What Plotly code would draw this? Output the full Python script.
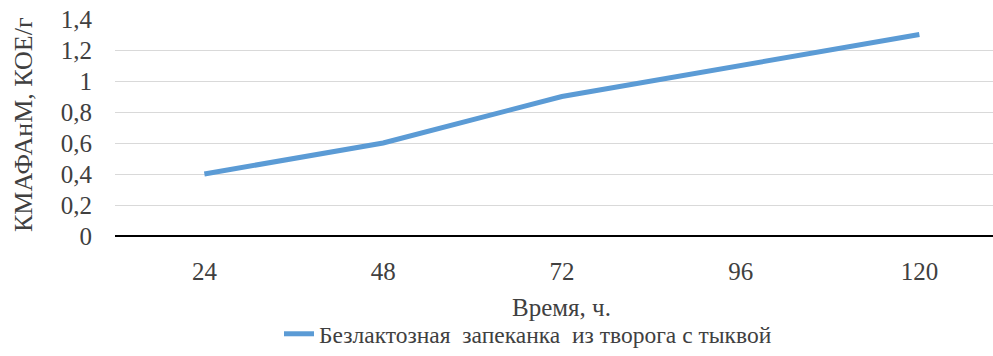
import plotly.graph_objects as go

categories = ["24", "48", "72", "96", "120"]
values = [0.4, 0.6, 0.9, 1.1, 1.3]
series_name = "Безлактозная  запеканка  из творога с тыквой"
x_title = "Время, ч."
y_title = "КМАФАнМ, КОЕ/г"

W, H = 993, 356
L, R, T, B = 115, 0, 19, 120
FONT = "Liberation Serif, Times New Roman, serif"
TXT = "#404040"
xs = list(range(len(categories)))
step_px = 178.75
plot_w = W - L - R
plot_h = H - T - B
full_plot_w = 5 * step_px


def f(size):
    return dict(family=FONT, size=size, color=TXT)


fig = go.Figure()
fig.add_trace(go.Scatter(
    x=xs, y=values, mode="lines", name=series_name,
    line=dict(color="#5B9BD5", width=5),
))
fig.update_layout(
    width=W, height=H,
    margin=dict(l=L, r=R, t=T, b=B, pad=0),
    paper_bgcolor="white", plot_bgcolor="white",
    separators=", ",
    font=f(25),
    showlegend=True,
    legend=dict(orientation="h", x=(279 - L) / plot_w, xanchor="left", y=-0.018, yanchor="bottom",
                yref="container", font=f(23.5),
                bgcolor="rgba(0,0,0,0)"),
    xaxis=dict(
        tickmode="array", tickvals=xs, ticktext=categories,
        range=[-0.5, -0.5 + plot_w / step_px],
        showgrid=False, zeroline=False, showline=False, ticks="",
        tickfont=f(25), ticklabelstandoff=18,
    ),
    yaxis=dict(
        range=[0, 1.4], dtick=0.2, tick0=0,
        showgrid=True, gridcolor="#d9d9d9", gridwidth=1.3,
        zeroline=True, zerolinecolor="#000000", zerolinewidth=1.6,
        showline=False, ticks="", ticklabelstandoff=22,
        tickfont=f(25),
    ),
    annotations=[
        dict(text=x_title, xref="paper", yref="paper", x=(full_plot_w / 2) / plot_w,
             y=-(307 - (H - B)) / plot_h, xanchor="center", yanchor="middle",
             showarrow=False, font=f(25)),
        dict(text=y_title, xref="paper", yref="paper", x=(23 - L) / plot_w,
             y=(H - B - 125) / plot_h, xanchor="center", yanchor="middle", textangle=-90,
             showarrow=False, font=f(26)),
    ],
)
fig.write_html("out.html")
